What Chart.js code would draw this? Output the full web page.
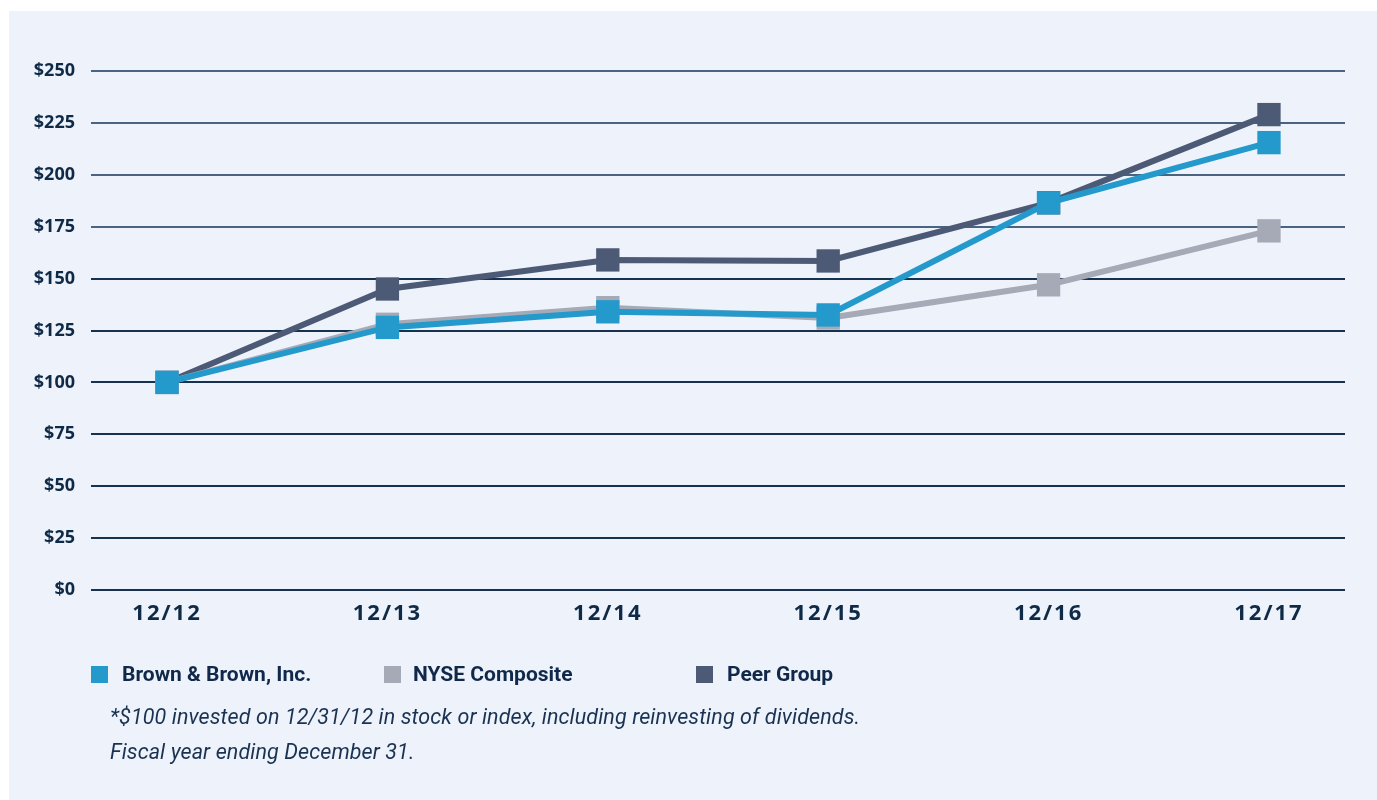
<!DOCTYPE html>
<html>
<head>
<meta charset="utf-8">
<script src="https://cdn.jsdelivr.net/npm/chart.js@4.4.1/dist/chart.umd.min.js"></script>
<style>
  html, body { margin: 0; padding: 0; background: #ffffff; }
  #wrap { position: relative; width: 1377px; height: 800px; overflow: hidden; }
  #panel { position: absolute; left: 9px; top: 11px; right: 0; bottom: 0; background: #eef3fb; }
  #c { position: absolute; left: 0; top: 0; }
  .leg { position: absolute; top: 662px; font: bold 21px Roboto, sans-serif; color: #10294a; white-space: nowrap; }
  .sw { position: absolute; top: 666px; width: 17px; height: 17px; }
  .note { position: absolute; left: 110px; font: italic 21.5px Roboto, sans-serif; color: #1a3252; white-space: nowrap; letter-spacing: 0.1px; }
</style>
</head>
<body>
<div id="wrap">
  <div id="panel"></div>
  <canvas id="c" width="1377" height="800"></canvas>
  <div id="legend"></div>
  <div class="note" style="top:704px">*$100 invested on 12/31/12 in stock or index, including reinvesting of dividends.</div>
  <div class="note" style="top:739px">Fiscal year ending December 31.</div>
</div>
<script>
const categories = ['12/12', '12/13', '12/14', '12/15', '12/16', '12/17'];
const brownValues = [100, 126.5, 134, 132.5, 186.5, 215.5];
const nyseValues  = [100, 128, 136, 131, 147, 173];
const peerValues  = [100, 145, 159, 158.5, 186.5, 229];
const yTicks = [0, 25, 50, 75, 100, 125, 150, 175, 200, 225, 250];
const seriesNames = ['Brown & Brown, Inc.', 'NYSE Composite', 'Peer Group'];
const seriesColors = ['#2399cc', '#a6a9b6', '#4d5a75'];

// HTML legend built from series names/colours
const legendX = [[91, 122], [384, 413], [696, 727]];
const legendEl = document.getElementById('legend');
seriesNames.forEach((n, i) => {
  const s = document.createElement('div');
  s.className = 'sw'; s.style.left = legendX[i][0] + 'px'; s.style.background = seriesColors[i];
  const t = document.createElement('div');
  t.className = 'leg'; t.style.left = legendX[i][1] + 'px'; t.textContent = n;
  legendEl.appendChild(s); legendEl.appendChild(t);
});

const toXY = arr => arr.map((v, i) => ({ x: i, y: v }));
const vals = [brownValues, nyseValues, peerValues];

const spacingPlugin = {
  id: 'spacing',
  afterDatasetsDraw(chart) { chart.ctx.letterSpacing = '2px'; },
  afterDraw(chart) { chart.ctx.letterSpacing = '0px'; }
};

new Chart(document.getElementById('c'), {
  type: 'line',
  data: {
    datasets: seriesNames.map((n, i) => ({
      label: n,
      data: toXY(vals[i]),
      borderColor: seriesColors[i],
      backgroundColor: seriesColors[i],
      borderWidth: 6,
      pointStyle: 'rect',
      pointRadius: 16.5,
      pointHoverRadius: 16.5,
      pointBorderWidth: 0,
      tension: 0,
      fill: false
    }))
  },
  options: {
    responsive: false,
    animation: false,
    events: [],
    layout: { padding: { left: 0, right: 32, top: 71, bottom: 160 } },
    plugins: { legend: { display: false }, tooltip: { enabled: false } },
    scales: {
      x: {
        type: 'linear',
        min: -0.345,
        max: 5.345,
        afterBuildTicks: s => { s.ticks = categories.map((_, i) => ({ value: i })); },
        afterFit: s => { s.height = 50; },
        grid: { display: false, drawTicks: false },
        border: { display: false },
        ticks: {
          z: 1,
          padding: 11,
          color: '#0f2a47',
          font: { family: 'Open Sans', weight: 'bold', size: 22 },
          callback: v => categories[v]
        }
      },
      y: {
        min: 0,
        max: 250,
        afterBuildTicks: s => { s.ticks = yTicks.map(v => ({ value: v })); },
        afterFit: s => { s.width = 91; },
        grid: {
          drawTicks: false,
          lineWidth: 2,
          color: c => (c.tick && c.tick.value >= 175) ? '#4a6380' : '#16324f'
        },
        border: { display: false },
        ticks: {
          padding: 16,
          color: '#0f2a47',
          font: { family: 'Open Sans', weight: 'bold', size: 18 },
          callback: v => '$' + v
        }
      }
    }
  },
  plugins: [spacingPlugin]
});
</script>
</body>
</html>
